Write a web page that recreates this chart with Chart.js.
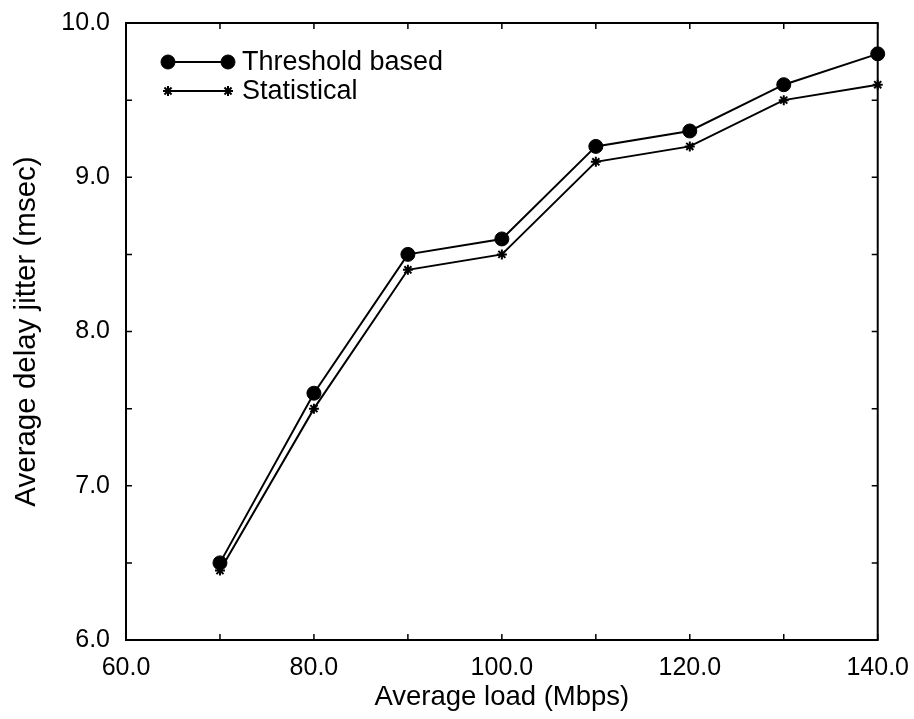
<!DOCTYPE html>
<html>
<head>
<meta charset="utf-8">
<script src="https://cdn.jsdelivr.net/npm/chart.js@4/dist/chart.umd.min.js"></script>
<style>
  html, body { margin: 0; padding: 0; background: #fff; }
  #wrap { width: 914px; height: 719px; }
</style>
</head>
<body>
<div id="wrap"><canvas id="c"></canvas></div>
<script>
const loads = [70, 80, 90, 100, 110, 120, 130, 140];
const thresholdVals = [6.5, 7.6, 8.5, 8.6, 9.2, 9.3, 9.6, 9.8];
const statisticalVals = [6.45, 7.5, 8.4, 8.5, 9.1, 9.2, 9.5, 9.6];
const seriesNames = ['Threshold based', 'Statistical'];
const xTitle = 'Average load (Mbps)';
const yTitle = 'Average delay jitter (msec)';

const font = '"Liberation Sans", Arial, sans-serif';

function pts(vals) {
    return loads.map((x, i) => ({ x: x, y: vals[i] }));
}

// box around the plot with inward ticks on all four sides
const frame = {
    id: 'frame',
    beforeDatasetsDraw(chart) {
        const ctx = chart.ctx;
        const a = chart.chartArea;
        const xs = chart.scales.x, ys = chart.scales.y;
        ctx.save();
        ctx.strokeStyle = '#000';
        ctx.lineWidth = 2;
        ctx.strokeRect(a.left, a.top, a.right - a.left, a.bottom - a.top);
        ctx.lineWidth = 1.5;
        ctx.beginPath();
        xs.ticks.forEach(t => {
            const px = xs.getPixelForValue(t.value);
            ctx.moveTo(px, a.bottom); ctx.lineTo(px, a.bottom - 6);
            ctx.moveTo(px, a.top); ctx.lineTo(px, a.top + 6);
        });
        ys.ticks.forEach(t => {
            const py = ys.getPixelForValue(t.value);
            ctx.moveTo(a.left, py); ctx.lineTo(a.left + 6, py);
            ctx.moveTo(a.right, py); ctx.lineTo(a.right - 6, py);
        });
        ctx.stroke();
        ctx.restore();
    }
};

// legend drawn inside the plot, top left
const insideLegend = {
    id: 'insideLegend',
    afterDraw(chart) {
        const ctx = chart.ctx;
        const a = chart.chartArea;
        ctx.save();
        ctx.font = '27px ' + font;
        ctx.fillStyle = '#000';
        ctx.textBaseline = 'middle';
        chart.data.datasets.forEach((ds, i) => {
            const y = a.top + 39 + i * 29;
            const x0 = a.left + 42, x1 = a.left + 102;
            ctx.strokeStyle = '#000';
            ctx.lineWidth = 2;
            ctx.beginPath();
            ctx.moveTo(x0, y); ctx.lineTo(x1, y);
            ctx.stroke();
            const opts = {
                pointStyle: ds.pointStyle, radius: ds.pointRadius,
                borderWidth: ds.pointBorderWidth || 2, rotation: 0
            };
            ctx.fillStyle = '#000';
            ctx.strokeStyle = '#000';
            ctx.lineWidth = opts.borderWidth;
            Chart.helpers.drawPoint(ctx, opts, x0, y);
            Chart.helpers.drawPoint(ctx, opts, x1, y);
            ctx.fillStyle = '#000';
            ctx.fillText(ds.label, x1 + 14, y + 1);
        });
        ctx.restore();
    }
};

new Chart(document.getElementById('c'), {
    type: 'scatter',
    data: {
        datasets: [{
            label: seriesNames[0],
            data: pts(thresholdVals),
            showLine: true,
            clip: false,
            borderColor: '#000',
            backgroundColor: '#000',
            borderWidth: 2,
            pointStyle: 'circle',
            pointRadius: 7,
            pointBorderWidth: 1,
            pointBackgroundColor: '#000',
            pointBorderColor: '#000'
        }, {
            label: seriesNames[1],
            data: pts(statisticalVals),
            showLine: true,
            clip: false,
            borderColor: '#000',
            backgroundColor: '#000',
            borderWidth: 2,
            pointStyle: 'star',
            pointRadius: 5,
            pointBorderWidth: 2,
            pointBackgroundColor: '#000',
            pointBorderColor: '#000'
        }]
    },
    options: {
        responsive: true,
        maintainAspectRatio: false,
        animation: false,
        layout: { padding: { top: 19, right: 36, left: 0, bottom: 0 } },
        plugins: {
            legend: { display: false },
            tooltip: { enabled: false }
        },
        scales: {
            x: {
                type: 'linear',
                min: 60, max: 140,
                grid: { display: false },
                border: { display: false },
                ticks: {
                    stepSize: 10,
                    maxRotation: 0,
                    autoSkip: false,
                    color: '#000',
                    padding: 5,
                    font: { family: font, size: 25 },
                    callback: v => (v % 20 === 0 ? v.toFixed(1) : '')
                },
                title: {
                    display: true, text: xTitle, color: '#000',
                    font: { family: font, size: 27.5 },
                    padding: { top: 0, bottom: 5 }
                },
                afterFit: s => { s.height = 79; }
            },
            y: {
                type: 'linear',
                min: 6, max: 10,
                grid: { display: false },
                border: { display: false },
                ticks: {
                    stepSize: 0.5,
                    autoSkip: false,
                    color: '#000',
                    padding: 8,
                    font: { family: font, size: 25 },
                    callback: v => (Number.isInteger(v) ? v.toFixed(1) : '')
                },
                title: {
                    display: true, text: yTitle, color: '#000',
                    font: { family: font, size: 29.5 },
                    padding: { top: 9, bottom: 0 }
                },
                afterFit: s => { s.width = 126; }
            }
        }
    },
    plugins: [frame, insideLegend]
});
</script>
</body>
</html>
